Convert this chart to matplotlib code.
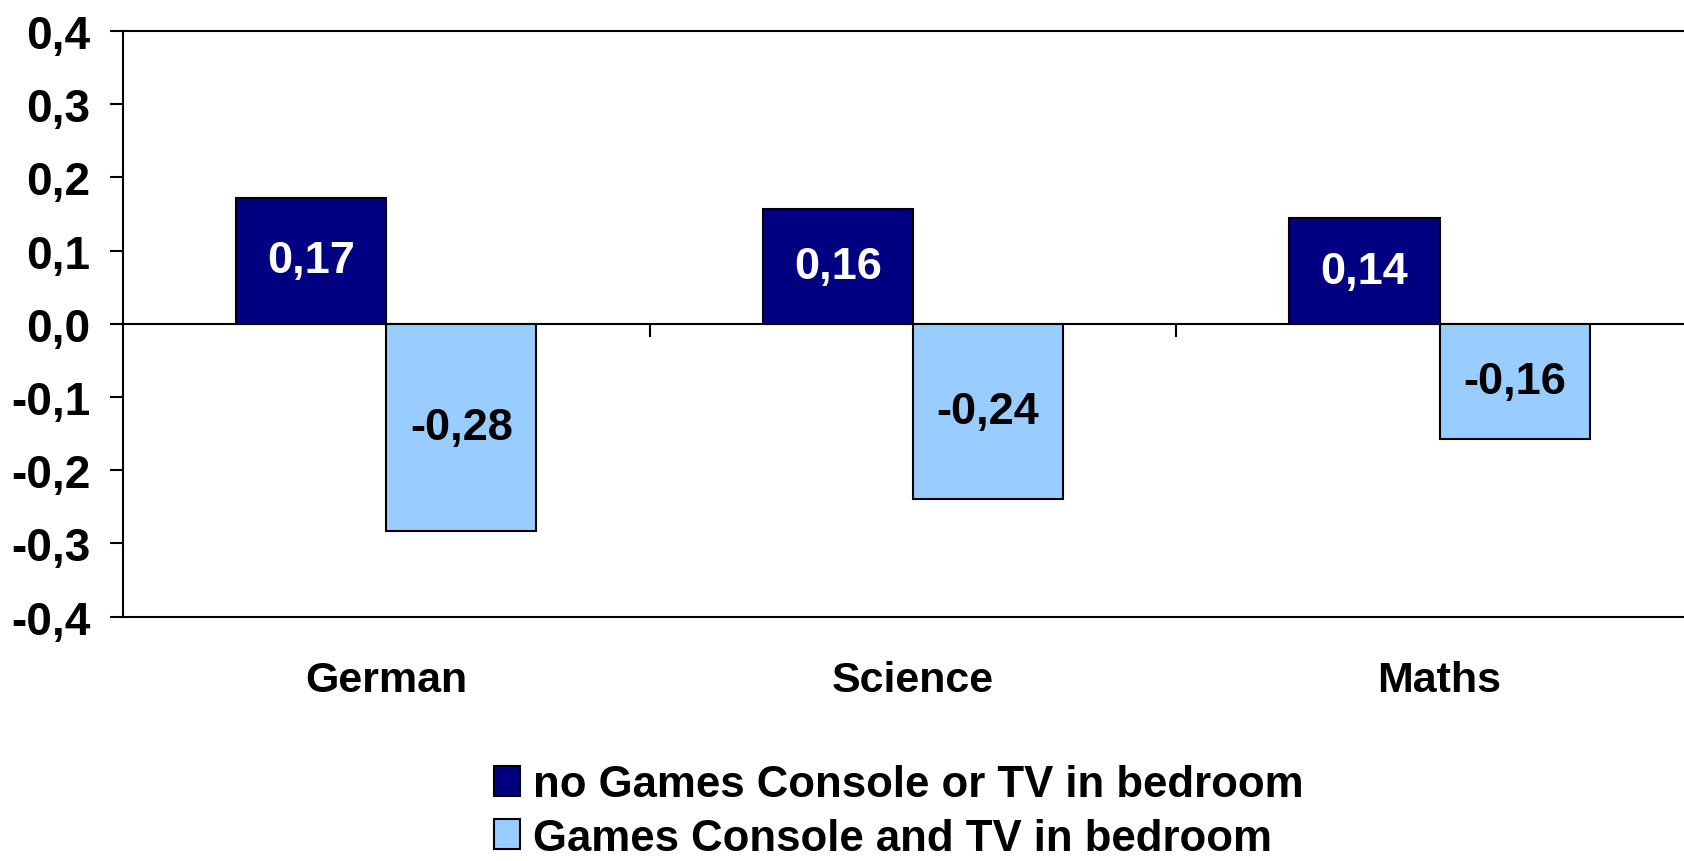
import numpy as np
import matplotlib
matplotlib.use("Agg")
import matplotlib.pyplot as plt
from matplotlib.patches import Patch

plt.rcParams['font.family'] = ['Liberation Sans', 'DejaVu Sans']
plt.rcParams['font.weight'] = 'bold'

subjects = ["German", "Science", "Maths"]
no_console = [0.172, 0.157, 0.144]
console_tv = [-0.283, -0.240, -0.157]
series_names = ["no Games Console or TV in bedroom", "Games Console and TV in bedroom"]
yticks = [-0.4, -0.3, -0.2, -0.1, 0.0, 0.1, 0.2, 0.3, 0.4]

dark = "#000080"
light = "#99CCFF"


def comma(v, digits):
    return f"{v:.{digits}f}".replace(".", ",")


fig = plt.figure(figsize=(16.84, 8.62), dpi=100)
ax = fig.add_axes([0.0730, 0.2836, 0.9382, 0.6792])

x = np.arange(len(subjects))
width = 0.285  # the width of the bars

rects1 = ax.bar(x - width / 2, no_console, width, color=dark, edgecolor="black", linewidth=1.5)
rects2 = ax.bar(x + width / 2, console_tv, width, color=light, edgecolor="black", linewidth=1.5)

ax.bar_label(rects1, labels=[comma(v, 2) for v in no_console], label_type="center",
             color="white", fontsize=32.5, fontweight="bold")
ax.bar_label(rects2, labels=[comma(v, 2) for v in console_tv], label_type="center",
             color="black", fontsize=32.5, fontweight="bold")

ax.set_xlim(-0.5, len(subjects) - 0.5)
ax.set_ylim(-0.4, 0.4)
ax.set_yticks(yticks, [comma(v, 1) for v in yticks])
ax.set_xticks(x, subjects)
ax.tick_params(axis="x", length=0, pad=31, labelsize=31)
ax.tick_params(axis="y", direction="out", length=9.5, width=1.5, pad=14, labelsize=33)

for s in ["left", "top", "bottom"]:
    ax.spines[s].set_linewidth(1.5)
ax.spines["right"].set_visible(False)

# category axis on the zero line, ticks between groups
sec = ax.secondary_xaxis(0.5)
sec.set_alignment("bottom")
sec.set_xticks(x[:-1] + 0.5)
sec.tick_params(direction="out", length=9.5, width=1.5, labelbottom=False, labeltop=False)
sec.spines["bottom"].set_linewidth(1.5)

handles = [Patch(facecolor=dark, edgecolor="black", linewidth=1.5),
           Patch(facecolor=light, edgecolor="black", linewidth=1.5)]
fig.legend(handles, series_names, loc="center left", bbox_to_anchor=(0.2933, 0.0575),
           frameon=False, fontsize=31.5, handlelength=0.6, handleheight=0.68,
           handletextpad=0.3, labelspacing=0.28, borderpad=0, borderaxespad=0)

fig.savefig("out.png", dpi=100)
